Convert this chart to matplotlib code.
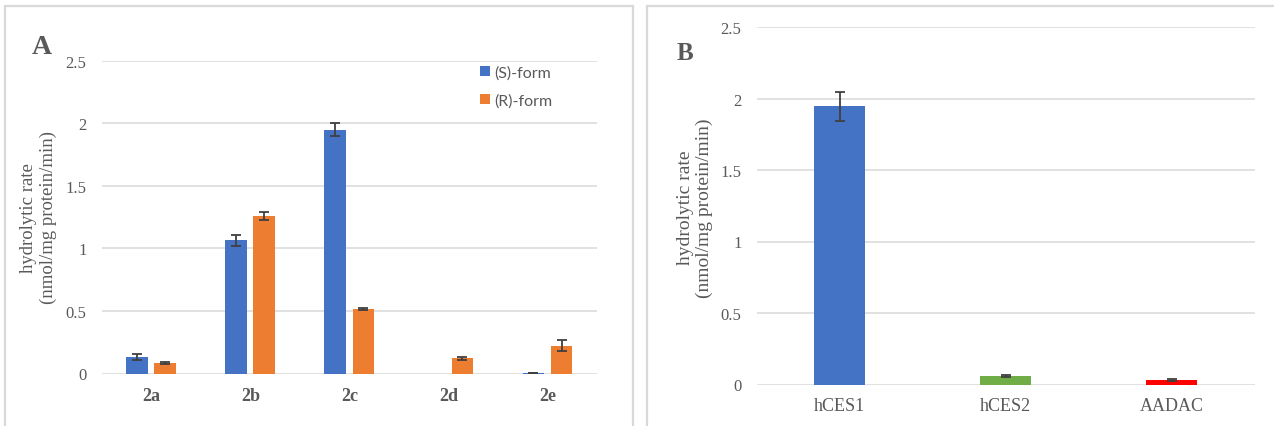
import matplotlib
matplotlib.use("Agg")
import matplotlib.pyplot as plt
import numpy as np
from matplotlib.patches import Rectangle

# panel A data
compounds = ["2a", "2b", "2c", "2d", "2e"]
s_form = [0.13, 1.065, 1.95, 0.0, 0.005]
s_err = [0.023, 0.045, 0.05, np.nan, 0.0]
r_form = [0.082, 1.257, 0.516, 0.121, 0.222]
r_err = [0.008, 0.03, 0.008, 0.013, 0.045]

# panel B data
enzymes = ["hCES1", "hCES2", "AADAC"]
enzyme_rate = [1.945, 0.058, 0.03]
enzyme_err = [0.1, 0.006, 0.006]

y_ticks = [0, 0.5, 1, 1.5, 2, 2.5]
y_ticklabels = ["0", "0.5", "1", "1.5", "2", "2.5"]

BLUE = "#4472C4"
ORANGE = "#ED7D31"
GREEN = "#70AD47"
RED = "#FF0000"
TEXT = "#595959"
GRID = "#d9d9d9"
ERR = "#404040"

plt.rcParams["font.family"] = ["Liberation Serif", "DejaVu Serif"]
plt.rcParams["ytick.labelsize"] = 12
plt.rcParams["ytick.color"] = TEXT
plt.rcParams["xtick.color"] = TEXT

W, H = 1274, 427
fig = plt.figure(figsize=(W / 100, H / 100), dpi=100)

# panel frames (open at the bottom)
for x0, x1 in [(5, 633), (647, 1290)]:
    fig.patches.append(Rectangle((x0 / W, -0.05), (x1 - x0) / W, 1 - 7 / H + 0.05,
                                 transform=fig.transFigure, fill=False,
                                 edgecolor=GRID, linewidth=1.6))


def style_axis(ax):
    ax.set_ylim(0, 2.5)
    ax.set_yticks(y_ticks, y_ticklabels)
    ax.tick_params(length=0)
    ax.tick_params(axis="y", pad=11)
    for sp in ax.spines.values():
        sp.set_visible(False)
    ax.yaxis.grid(True, color=GRID, linewidth=1.1)
    ax.set_axisbelow(True)


err_kw = dict(ecolor=ERR, elinewidth=1.3, capsize=3.3, capthick=1.3)

# ---- panel A ----
axA = fig.add_axes([101.7 / W, 1 - 374.5 / H, 495.3 / W, 312.8 / H])
style_axis(axA)
x = np.arange(len(compounds))
bw, off = 0.22, 0.142
axA.bar(x - off, s_form, bw, color=BLUE, yerr=s_err, error_kw=err_kw, label="(S)-form")
axA.bar(x + off, r_form, bw, color=ORANGE, yerr=r_err, error_kw=err_kw, label="(R)-form")
axA.set_xlim(-0.5, len(compounds) - 0.5)
axA.set_xticks(x, compounds, fontsize=13, fontweight="bold")
axA.tick_params(axis="x", pad=10)
leg = axA.legend(loc="upper left", bbox_to_anchor=(480 / W, 1 - 66 / H),
                 bbox_transform=fig.transFigure, frameon=False,
                 handlelength=0.6, handleheight=0.6, handletextpad=0.3,
                 labelspacing=0.85, borderpad=0, borderaxespad=0,
                 prop={"family": "Lato", "size": 11.5})
for t in leg.get_texts():
    t.set_color(TEXT)
fig.text(38.5 / W, 1 - 218 / H, "hydrolytic rate\n(nmol/mg protein/min)",
         rotation=90, ha="center", va="center", multialignment="center",
         fontsize=13.5, color=TEXT, linespacing=1.2)
fig.text(32 / W, 1 - 48 / H, "A", ha="left", va="center",
         fontsize=20, fontweight="bold", color=TEXT)

# ---- panel B ----
axB = fig.add_axes([756.7 / W, 1 - 385.5 / H, 498 / W, 357.5 / H])
style_axis(axB)
xb = np.arange(len(enzymes))
axB.bar(xb, enzyme_rate, 0.31, color=[BLUE, GREEN, RED], yerr=enzyme_err, error_kw=err_kw)
axB.set_xlim(-0.5, len(enzymes) - 0.5)
axB.set_xticks(xb, enzymes, fontsize=13)
axB.tick_params(axis="x", pad=9)
fig.text(695 / W, 1 - 208 / H, "hydrolytic rate\n(nmol/mg protein/min)",
         rotation=90, ha="center", va="center", multialignment="center",
         fontsize=14, color=TEXT, linespacing=1.2)
fig.text(677 / W, 1 - 53 / H, "B", ha="left", va="center",
         fontsize=18, fontweight="bold", color=TEXT)

fig.savefig("out.png", dpi=100)
